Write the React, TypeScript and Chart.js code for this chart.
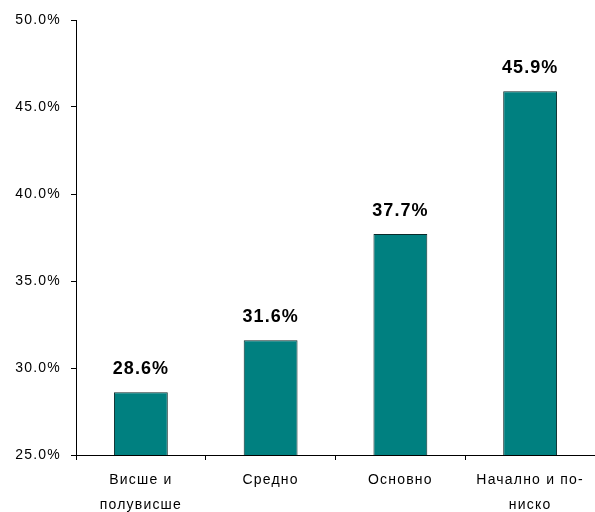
import React, { useEffect, useRef } from "react";
import { Chart, registerables } from "chart.js";

Chart.register(...registerables);

const categories: string[][] = [
  ["Висше и", "полувисше"],
  ["Средно"],
  ["Основно"],
  ["Начално и по-", "ниско"],
];
const values: number[] = [28.6, 31.6, 37.7, 45.9];
const yMin = 25;
const yMax = 50;
const yStep = 5;

const FONT = "'Liberation Sans', Arial, sans-serif";

const valueLabels = {
  id: "valueLabels",
  afterDatasetsDraw(chart: any) {
    const ctx = chart.ctx;
    const meta = chart.getDatasetMeta(0);
    ctx.save();
    ctx.letterSpacing = "1px";
    ctx.font = `bold 18px ${FONT}`;
    ctx.fillStyle = "#000";
    ctx.textAlign = "center";
    ctx.textBaseline = "middle";
    meta.data.forEach((bar: any, i: number) => {
      ctx.fillText(values[i].toFixed(1) + "%", bar.x, bar.y - 23);
    });
    ctx.restore();
  },
};

const spacing = {
  id: "spacing",
  beforeDraw(chart: any) {
    chart.ctx.letterSpacing = "1.2px";
  },
};

export default function App() {
  const ref = useRef<HTMLCanvasElement>(null);
  useEffect(() => {
    if (!ref.current) return;
    const chart = new Chart(ref.current, {
      type: "bar",
      data: {
        labels: categories,
        datasets: [
          {
            data: values,
            backgroundColor: "#008080",
            borderColor: "#0a2a2a",
            borderWidth: 1,
            barPercentage: 0.415,
            categoryPercentage: 1,
          },
        ],
      },
      plugins: [spacing, valueLabels],
      options: {
        animation: false,
        responsive: false,
        maintainAspectRatio: false,
        layout: { padding: { top: 20, right: 0, left: 0, bottom: 0 } },
        plugins: { legend: { display: false }, tooltip: { enabled: false } },
        scales: {
          x: {
            offset: true,
            grid: {
              offset: true,
              drawOnChartArea: false,
              drawTicks: true,
              tickLength: 5,
              color: "#000",
            },
            border: { color: "#000", width: 1 },
            ticks: {
              color: "#000",
              font: { family: FONT, size: 14, lineHeight: 1.75 },
              padding: 8,
              maxRotation: 0,
              autoSkip: false,
            },
            afterFit(scale: any) {
              scale.height = 57;
            },
          },
          y: {
            min: yMin,
            max: yMax,
            grid: {
              drawOnChartArea: false,
              drawTicks: true,
              tickLength: 5,
              color: "#000",
            },
            border: { color: "#000", width: 1 },
            ticks: {
              stepSize: yStep,
              color: "#000",
              padding: 10,
              font: { family: FONT, size: 14 },
              callback: (v: any) => Number(v).toFixed(1) + "%",
            },
            afterFit(scale: any) {
              scale.width = 76;
            },
          },
        },
      },
    });
    return () => chart.destroy();
  }, []);
  return (
    <div style={{ position: "fixed", left: 0, top: 0, width: 595, height: 512, background: "#fff" }}>
      <canvas ref={ref} width={595} height={512} style={{ display: "block" }} />
    </div>
  );
}
